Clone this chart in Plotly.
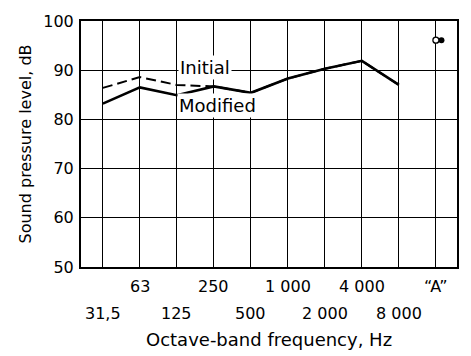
import plotly.graph_objects as go

# ---- data ----
band_labels = ["31,5", "63", "125", "250", "500", "1 000", "2 000", "4 000", "8 000", "\u201cA\u201d"]
initial_db = [86.4, 88.6, 87.0, 86.7, 85.4, 88.3, 90.3, 91.9, 87.0]
modified_db = [83.2, 86.5, 84.9, 86.7, 85.4, 88.3, 90.3, 91.9, 87.0]
a_initial_db = 96.1
a_modified_db = 96.1
y_ticks = [50, 60, 70, 80, 90, 100]

FONT = "DejaVu Sans"
idx = list(range(len(band_labels)))
band_idx = idx[:len(modified_db)]
a_idx = idx[-1]

fig = go.Figure()
fig.add_trace(go.Scatter(x=band_idx, y=initial_db, mode="lines",
                         line=dict(color="black", width=2, dash="10px,5px"),
                         showlegend=False, hoverinfo="skip"))
fig.add_trace(go.Scatter(x=band_idx, y=modified_db, mode="lines",
                         line=dict(color="black", width=2.6),
                         showlegend=False, hoverinfo="skip"))
fig.add_trace(go.Scatter(x=[a_idx + 0.15], y=[a_modified_db], mode="markers",
                         marker=dict(symbol="circle", size=6, color="black"),
                         showlegend=False, hoverinfo="skip"))
fig.add_trace(go.Scatter(x=[a_idx], y=[a_initial_db], mode="markers",
                         marker=dict(symbol="circle", size=6, color="white",
                                     line=dict(color="black", width=1.3)),
                         showlegend=False, hoverinfo="skip"))

annotations = []
for i, lab in zip(idx, band_labels):
    row2 = (i % 2 == 0)
    annotations.append(dict(x=i, y=0, xref="x", yref="paper", text=lab,
                            showarrow=False, yanchor="middle", xanchor="center",
                            yshift=-46 if row2 else -19,
                            font=dict(family=FONT, size=16, color="black")))
annotations.append(dict(x=0.5, y=0, xref="paper", yref="paper",
                        text="Octave-band frequency, Hz", showarrow=False,
                        yanchor="middle", xanchor="center", yshift=-72,
                        font=dict(family=FONT, size=18, color="black")))
annotations.append(dict(x=2.77, y=90.6, xref="x", yref="y", text="Initial",
                        showarrow=False, bgcolor="white", borderpad=1,
                        font=dict(family=FONT, size=18, color="black")))
annotations.append(dict(x=3.11, y=82.9, xref="x", yref="y", text="Modified",
                        showarrow=False, bgcolor="white", borderpad=1,
                        font=dict(family=FONT, size=18, color="black")))

fig.update_layout(
    width=471, height=356,
    margin=dict(l=81, r=13, t=14, b=89),
    paper_bgcolor="white", plot_bgcolor="white",
    annotations=annotations,
    xaxis=dict(range=[-0.59, 9.57], tickvals=idx, showticklabels=False,
               showgrid=True, gridcolor="black", gridwidth=1.2, zeroline=False,
               showline=True, linecolor="black", linewidth=2, mirror=True,
               ticks=""),
    yaxis=dict(range=[50, 100], tickvals=y_ticks, ticktext=[str(v) for v in y_ticks],
               showgrid=True, gridcolor="black", gridwidth=1.2, zeroline=False,
               showline=True, linecolor="black", linewidth=2, mirror=True,
               ticks="outside", ticklen=0, ticklabelstandoff=2,
               tickfont=dict(family=FONT, size=16, color="black"),
               title=dict(text="Sound pressure level, dB", standoff=8,
                          font=dict(family=FONT, size=16, color="black"))),
)

fig.write_html("out.html")
